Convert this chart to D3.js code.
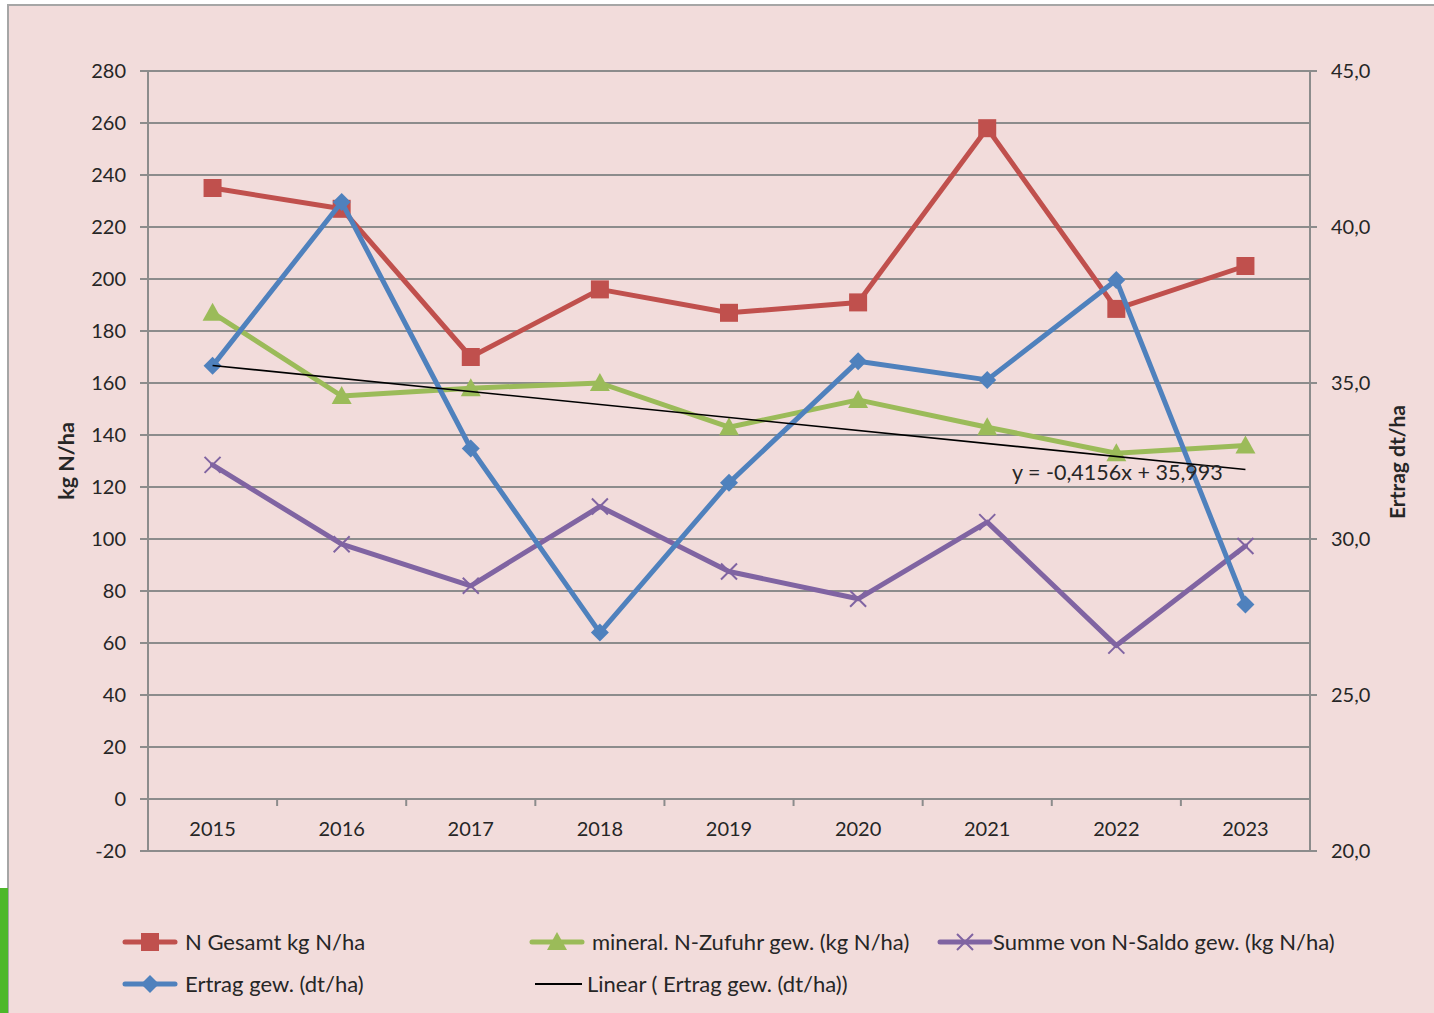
<!DOCTYPE html>
<html><head><meta charset="utf-8">
<script src="https://cdnjs.cloudflare.com/ajax/libs/d3/7.8.5/d3.min.js"></script>
<style>
html,body{margin:0;padding:0;background:#fff;}
svg{display:block;font-family:Lato, "Open Sans", sans-serif;}
</style></head><body>
<svg id="c" width="1434" height="1013"></svg>
<script>
const years = ["2015","2016","2017","2018","2019","2020","2021","2022","2023"];
const nGesamt = [235, 227, 170, 196, 187, 191, 258, 188.5, 205];
const mineralN = [187, 155, 158, 160, 143, 153.5, 143, 133, 136];
const nSaldo = [128.5, 98, 82, 112.5, 87.5, 77, 106.5, 59, 97.3];
const ertrag = [35.55, 40.8, 32.9, 27.0, 31.8, 35.7, 35.1, 38.3, 27.9];
const leftTicks = [-20,0,20,40,60,80,100,120,140,160,180,200,220,240,260,280];
const rightTicks = [20,25,30,35,40,45];
const trendLabel = "y = -0,4156x + 35,993";
const legendLabels = ["N Gesamt kg N/ha","mineral. N-Zufuhr gew. (kg N/ha)","Summe von N-Saldo gew. (kg N/ha)","Ertrag gew. (dt/ha)","Linear ( Ertrag gew. (dt/ha))"];

const svg = d3.select("#c");
const W=1434,H=1013;
svg.append("rect").attr("width",W).attr("height",H).attr("fill","#fff");
svg.append("rect").attr("x",8).attr("y",5).attr("width",W).attr("height",H).attr("fill","#f2dcdb").attr("stroke","#a6a6a6").attr("stroke-width",2);
svg.append("rect").attr("x",0).attr("y",888).attr("width",8).attr("height",125).attr("fill","#4db82a");

const L=148,R=1310,T=71,B=851;
const x = d3.scaleBand().domain(years).range([L,R]);
const yL = d3.scaleLinear().domain([-20,280]).range([B,T]);
const yR = d3.scaleLinear().domain([20,45]).range([B,T]);
const grid="#8c8c8c";

svg.append("g").selectAll("line").data(leftTicks).join("line")
 .attr("x1",L-8).attr("x2",R).attr("y1",d=>yL(d)).attr("y2",d=>yL(d))
 .attr("stroke",grid).attr("stroke-width",2);
svg.append("line").attr("x1",L).attr("x2",L).attr("y1",T).attr("y2",B).attr("stroke",grid).attr("stroke-width",2);
svg.append("line").attr("x1",R).attr("x2",R).attr("y1",T).attr("y2",B).attr("stroke",grid).attr("stroke-width",2);
svg.append("g").selectAll("line").data(rightTicks).join("line")
 .attr("x1",R).attr("x2",R+7).attr("y1",d=>yR(d)).attr("y2",d=>yR(d)).attr("stroke",grid).attr("stroke-width",2);
svg.append("g").selectAll("line").data(years.slice(1)).join("line")
 .attr("x1",d=>x(d)).attr("x2",d=>x(d)).attr("y1",yL(0)).attr("y2",yL(0)+7).attr("stroke",grid).attr("stroke-width",2);

const txt="#262626";
svg.append("g").selectAll("text").data(leftTicks).join("text")
 .attr("x",126).attr("y",d=>yL(d)).attr("dy","0.35em").attr("text-anchor","end")
 .attr("font-size",20).attr("fill",txt).text(d=>d);
svg.append("g").selectAll("text").data(rightTicks).join("text")
 .attr("x",1331).attr("y",d=>yR(d)).attr("dy","0.35em").attr("text-anchor","start")
 .attr("font-size",20).attr("fill",txt).text(d=>d.toFixed(1).replace(".",","));
svg.append("g").selectAll("text").data(years).join("text")
 .attr("x",d=>x(d)+x.bandwidth()/2).attr("y",yL(0)+30).attr("dy","0.35em").attr("text-anchor","middle")
 .attr("font-size",20).attr("fill",txt).text(d=>d);
svg.append("text").attr("transform","translate(74,461) rotate(-90)").attr("text-anchor","middle")
 .attr("font-size",21.5).attr("font-weight","bold").attr("fill",txt).text("kg N/ha");
svg.append("text").attr("transform","translate(1405,462) rotate(-90)").attr("text-anchor","middle")
 .attr("font-size",21).attr("font-weight","bold").attr("fill",txt).text("Ertrag dt/ha");

const cx = i=>x(years[i])+x.bandwidth()/2;
const series = [
 {vals:nGesamt, sc:yL, color:"#c0504d", m:"square"},
 {vals:mineralN, sc:yL, color:"#9bbb59", m:"triangle"},
 {vals:nSaldo, sc:yL, color:"#8064a2", m:"x"},
 {vals:ertrag, sc:yR, color:"#4f81bd", m:"diamond"}
];
function marker(g, type, px, py, color){
 if(type==="square") g.append("rect").attr("x",px-9).attr("y",py-9).attr("width",18).attr("height",18).attr("fill",color);
 else if(type==="triangle") g.append("path").attr("d",`M${px},${py-10}L${px+10},${py+8}L${px-10},${py+8}Z`).attr("fill",color);
 else if(type==="diamond") g.append("path").attr("d",`M${px},${py-9}L${px+9},${py}L${px},${py+9}L${px-9},${py}Z`).attr("fill",color);
 else if(type==="x") g.append("path").attr("d",`M${px-8},${py-8}L${px+8},${py+8}M${px-8},${py+8}L${px+8},${py-8}`).attr("stroke",color).attr("stroke-width",2);
}
series.forEach(s=>{
 const g=svg.append("g");
 const line=d3.line().x((d,i)=>cx(i)).y(d=>s.sc(d));
 g.append("path").attr("d",line(s.vals)).attr("fill","none").attr("stroke",s.color).attr("stroke-width",5).attr("stroke-linejoin","round").attr("stroke-linecap","round");
 s.vals.forEach((v,i)=>marker(g,s.m,cx(i),s.sc(v),s.color));
});

const n=ertrag.length, xs=ertrag.map((d,i)=>i+1);
const mx=d3.mean(xs), my=d3.mean(ertrag);
const slope=d3.sum(xs.map((xv,i)=>(xv-mx)*(ertrag[i]-my)))/d3.sum(xs.map(xv=>(xv-mx)**2));
const icpt=my-slope*mx;
svg.append("line").attr("x1",cx(0)).attr("x2",cx(n-1)).attr("y1",yR(icpt+slope*1)).attr("y2",yR(icpt+slope*n))
 .attr("stroke","#000").attr("stroke-width",1.6);
svg.append("text").attr("x",1012).attr("y",472).attr("dy","0.35em").attr("font-size",21.5).attr("fill",txt).text(trendLabel);

const leg=[
 {lx:125,ly:942,color:"#c0504d",m:"square",lab:legendLabels[0]},
 {lx:532,ly:942,color:"#9bbb59",m:"triangle",lab:legendLabels[1]},
 {lx:940,ly:942,color:"#8064a2",m:"x",lab:legendLabels[2]},
 {lx:125,ly:984,color:"#4f81bd",m:"diamond",lab:legendLabels[3]},
 {lx:535,ly:984,color:"#000",m:null,lab:legendLabels[4]}
];
leg.forEach(e=>{
 const g=svg.append("g");
 if(e.m){
  g.append("line").attr("x1",e.lx).attr("x2",e.lx+50).attr("y1",e.ly).attr("y2",e.ly).attr("stroke",e.color).attr("stroke-width",5).attr("stroke-linecap","round");
  marker(g,e.m,e.lx+25,e.ly,e.color);
 } else {
  g.append("line").attr("x1",e.lx).attr("x2",e.lx+47).attr("y1",e.ly).attr("y2",e.ly).attr("stroke",e.color).attr("stroke-width",2);
 }
 const tx = e.m==="x" ? e.lx+53 : (e.m? e.lx+60 : e.lx+52);
 g.append("text").attr("x",tx).attr("y",e.ly).attr("dy","0.35em").attr("font-size",22).attr("fill",txt).text(e.lab);
});
</script></body></html>
